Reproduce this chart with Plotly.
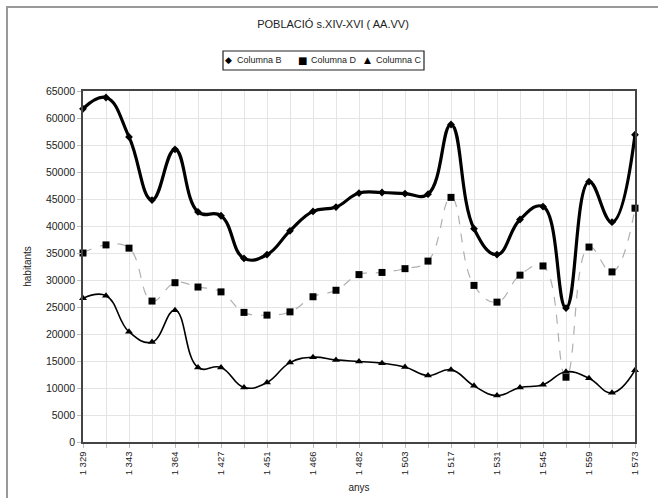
import plotly.graph_objects as go

# tick labels shown on every other category (25 data points)
x_labels = ["1 329", "1 343", "1 364", "1 427", "1 451", "1 466", "1 482",
            "1 503", "1 517", "1 531", "1 545", "1 559", "1 573"]

columna_b = [61700, 63800, 56500, 44800, 54200, 42600, 41900, 34000, 34700, 39100,
             42700, 43500, 46100, 46200, 46000, 45900, 58800, 39500, 34700, 41200,
             43600, 24800, 48200, 40700, 56900]
columna_d = [35000, 36500, 35900, 26100, 29500, 28700, 27800, 24000, 23500, 24100,
             26900, 28100, 31000, 31400, 32100, 33500, 45300, 29000, 25900, 30900,
             32600, 12000, 36100, 31500, 43300]
columna_c = [26600, 27100, 20400, 18500, 24400, 13800, 13800, 10100, 11000, 14700,
             15700, 15200, 14900, 14600, 13900, 12300, 13400, 10400, 8600, 10100,
             10600, 13000, 11800, 9100, 13300]

series_names = ["Columna B", "Columna D", "Columna C"]
legend_symbols = ["◆", "■", "▲"]

n = len(columna_b)
x = list(range(n))
ticktext = [x_labels[i // 2] if i % 2 == 0 else "" for i in range(n)]

FONT = "Liberation Sans, Arial, sans-serif"
W, H = 658, 498
L, R, T, B = 83, 23, 91, 56

fig = go.Figure()
styles = [
    (dict(color="black", width=3.2), "diamond", 6),
    (dict(color="#b0b0b0", width=1.2, dash="dash"), "square", 7),
    (dict(color="black", width=1.6), "triangle-up", 7),
]
for name, vals, (line, sym, sz) in zip(series_names, [columna_b, columna_d, columna_c], styles):
    fig.add_trace(go.Scatter(
        x=x, y=vals, mode="lines+markers", name=name, showlegend=False,
        line=dict(shape="spline", smoothing=1.25, **line),
        marker=dict(symbol=sym, size=sz, color="black"),
        cliponaxis=False,
    ))

fig.update_layout(
    width=W, height=H,
    margin=dict(l=L, r=R, t=T, b=B, autoexpand=False),
    paper_bgcolor="white", plot_bgcolor="white",
    font=dict(family=FONT, size=9, color="#222"),
    title=dict(text="POBLACIÓ s.XIV-XVI ( AA.VV)", x=333 / W, xanchor="center",
               xref="container", y=1 - 24 / H, yref="container", yanchor="middle",
               font=dict(size=11, color="#222"), automargin=False),
    showlegend=False,
)
fig.update_xaxes(
    range=[0, n - 1], tickmode="array", tickvals=x, ticktext=ticktext,
    tickangle=-90, showgrid=True, gridcolor="#e4e4e4", gridwidth=1,
    showline=True, linecolor="#444", linewidth=1.5, mirror=True,
    ticks="outside", ticklen=4, tickcolor="#bbb", zeroline=False,
    tickfont=dict(size=9.5), automargin=False,
    title=dict(text="anys", font=dict(size=10), standoff=10),
)
fig.update_yaxes(
    range=[0, 65000], dtick=5000, tickformat="d",
    showgrid=True, gridcolor="#e4e4e4", gridwidth=1,
    showline=True, linecolor="#444", linewidth=1.5, mirror=True,
    ticks="outside", ticklen=4, tickcolor="#bbb", zeroline=False,
    tickfont=dict(size=10.5), automargin=False,
    title=dict(text="habitants", font=dict(size=10), standoff=12),
)

pw, ph = W - L - R, H - T - B
def px(xp):
    return (xp - L) / pw
def py(yp):
    return (H - B - yp) / ph

# outer grey frame of the chart area
fig.add_shape(type="rect", xref="paper", yref="paper",
              x0=px(7), x1=px(700), y0=py(540), y1=py(7),
              line=dict(color="#999", width=2), fillcolor="rgba(0,0,0,0)", layer="below")

# legend box with marker symbols and names
fig.add_shape(type="rect", xref="paper", yref="paper",
              x0=px(223), x1=px(424), y0=py(70), y1=py(51),
              line=dict(color="#222", width=1.2), fillcolor="white")
sym_x = [228, 302, 367]
sym_size = [9, 10, 9]
for sx, sym, name, ss in zip(sym_x, legend_symbols, series_names, sym_size):
    fig.add_annotation(xref="paper", yref="paper", x=px(sx), y=py(60.5),
                       text=sym, showarrow=False, xanchor="center", yanchor="middle",
                       font=dict(size=ss, color="black", family="DejaVu Sans"))
    fig.add_annotation(xref="paper", yref="paper", x=px(sx + 7), y=py(60.5),
                       text=name, showarrow=False, xanchor="left", yanchor="middle",
                       font=dict(size=9, color="#222"))

fig.write_html("out.html", config={"displayModeBar": False},
               post_script="document.body.style.margin='0';document.body.style.padding='0';")
